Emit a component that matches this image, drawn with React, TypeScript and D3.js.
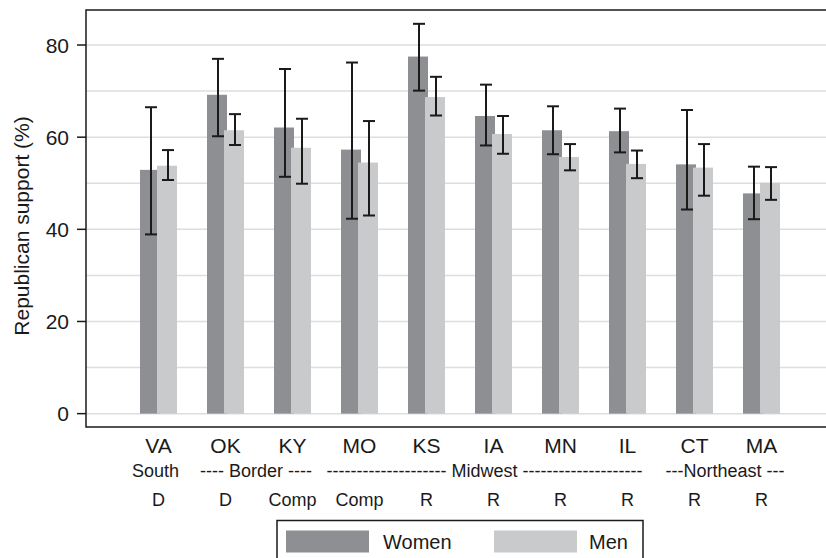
import React from 'react';
import * as d3 from 'd3';

const states = ['VA', 'OK', 'KY', 'MO', 'KS', 'IA', 'MN', 'IL', 'CT', 'MA'];
const partisan = ['D', 'D', 'Comp', 'Comp', 'R', 'R', 'R', 'R', 'R', 'R'];

const women = [52.9, 69.2, 62.1, 57.3, 77.5, 64.6, 61.5, 61.3, 54.1, 47.8];
const womenLo = [38.9, 60.2, 51.4, 42.3, 70.1, 58.2, 56.3, 56.7, 44.3, 42.2];
const womenHi = [66.5, 77.0, 74.8, 76.2, 84.6, 71.4, 66.7, 66.2, 65.9, 53.6];

const men = [53.8, 61.5, 57.7, 54.5, 68.7, 60.7, 55.7, 54.2, 53.4, 50.1];
const menLo = [50.7, 58.3, 49.9, 43.0, 64.7, 56.4, 52.8, 51.1, 47.3, 46.4];
const menHi = [57.2, 65.0, 64.0, 63.5, 73.1, 64.6, 58.5, 57.1, 58.5, 53.5];

const regionLabels = [
  'South',
  '---- Border ----',
  '-------------------- Midwest --------------------',
  '---Northeast ---',
];
const regionFrom = ['VA', 'OK', 'MO', 'CT'];
const regionTo = ['VA', 'KY', 'IL', 'MA'];

const yTicks = [0, 20, 40, 60, 80];
const gridTicks = [0, 10, 20, 30, 40, 50, 60, 70, 80];

const series = [
  { name: 'Women', values: women, lo: womenLo, hi: womenHi, color: '#8e8f93' },
  { name: 'Men', values: men, lo: menLo, hi: menHi, color: '#c9cacc' },
];

const W = 826;
const H = 558;
const left = 86;
const top = 10;
const bottom = 427;
const ink = '#1a1a1a';
const font = 'Liberation Sans, Arial, Helvetica, sans-serif';

export default function App() {
  const x = d3.scalePoint<string>().domain(states).range([left, 834]).padding(1.082);
  const y = d3.scaleLinear().domain([-2.9, 87.6]).range([bottom, top]);
  // women / men offset inside each state group
  const off = d3.scalePoint<string>().domain(series.map(s => s.name)).range([-8.5, 8.5]);
  const barW = 20;
  const cap = 6;

  return (
    <svg width={W} height={H} style={{ position: 'absolute', left: 0, top: 0, background: '#fff' }} fontFamily={font}>
      {gridTicks.map(t => (
        <line key={t} x1={left} x2={W} y1={y(t)} y2={y(t)} stroke="#dedede" strokeWidth={1.5} />
      ))}

      {series.map(s => (
        <g key={s.name}>
          {states.map((st, i) => (
            <rect
              key={st}
              x={(x(st) as number) + (off(s.name) as number) - barW / 2}
              y={y(s.values[i])}
              width={barW}
              height={y(0) - y(s.values[i])}
              fill={s.color}
            />
          ))}
        </g>
      ))}

      {series.map(s => (
        <g key={s.name + '-err'} stroke={ink} strokeWidth={2}>
          {states.map((st, i) => {
            const cx = (x(st) as number) + (off(s.name) as number) + 1;
            return (
              <g key={st}>
                <line x1={cx} x2={cx} y1={y(s.lo[i])} y2={y(s.hi[i])} />
                <line x1={cx - cap} x2={cx + cap} y1={y(s.lo[i])} y2={y(s.lo[i])} />
                <line x1={cx - cap} x2={cx + cap} y1={y(s.hi[i])} y2={y(s.hi[i])} />
              </g>
            );
          })}
        </g>
      ))}

      {/* plot frame, right side runs off the page */}
      <path d={`M${W},${top}H${left}V${bottom}H${W}`} fill="none" stroke={ink} strokeWidth={1.5} />

      {yTicks.map(t => (
        <g key={t}>
          <line x1={77} x2={left} y1={y(t)} y2={y(t)} stroke={ink} strokeWidth={1.5} />
          <text x={69} y={y(t)} dy="0.36em" textAnchor="end" fontSize={21} fill={ink}>
            {t}
          </text>
        </g>
      ))}
      <text transform={`translate(29,226) rotate(-90)`} textAnchor="middle" fontSize={21} fill={ink}>
        Republican support (%)
      </text>

      {states.map((st, i) => (
        <g key={st}>
          <text x={x(st)} y={452.5} textAnchor="middle" fontSize={21} fill={ink}>
            {st}
          </text>
          <text x={x(st)} y={506} textAnchor="middle" fontSize={18} fill={ink}>
            {partisan[i]}
          </text>
        </g>
      ))}
      {regionLabels.map((r, i) => {
        const mid = ((x(regionFrom[i]) as number) + (x(regionTo[i]) as number)) / 2;
        const nudge = i === 2 ? -9 : -3;
        return (
          <text key={r} x={mid + nudge} y={477} textAnchor="middle" fontSize={18} fill={ink}>
            {r}
          </text>
        );
      })}

      <rect x={277} y={520.5} width={366} height={60} fill="#fff" stroke={ink} strokeWidth={1.5} />
      <rect x={286} y={530.5} width={83} height={22} fill={series[0].color} />
      <text x={383} y={548.5} fontSize={20} fill={ink}>Women</text>
      <rect x={494} y={530.5} width={83} height={22} fill={series[1].color} />
      <text x={589} y={548.5} fontSize={20} fill={ink}>Men</text>
    </svg>
  );
}
